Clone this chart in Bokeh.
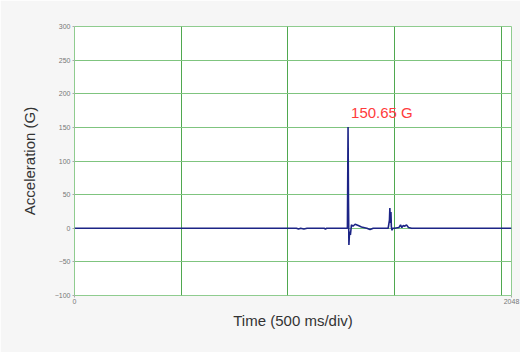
from bokeh.plotting import figure
from bokeh.models import FixedTicker, Range1d, Label
from bokeh.embed import file_html
from bokeh.resources import INLINE

# waveform knots (sample index, acceleration G)
sample_idx = [0, 1040, 1050, 1060, 1075, 1090, 1100, 1170, 1176, 1182, 1270,
              1279, 1282, 1284, 1286, 1289, 1293, 1298, 1305, 1315, 1330, 1345,
              1370, 1385, 1400, 1470, 1476, 1478, 1480, 1483, 1485, 1488, 1492,
              1500, 1520, 1528, 1534, 1540, 1548, 1556, 1565, 1580, 2048]
accel_g = [0, 0, -1, 0, -1, 0, 0, 0, -1, 0, 0,
           0, 150.65, 40, -25, -5, -10, 5, 3, 6, 4, 2,
           0, -2, 0, 0, 12, 30, 8, 24, 2, -3, 0,
           0, 1, 5, 1, 4, 3, 5, 1, 0, 0]

y_ticks = [-100, -50, 0, 50, 100, 150, 200, 250, 300]
x_ticks = [0, 2048]
x_grid = [0, 500, 1000, 1500, 2000, 2048]
peak_label = "150.65 G"

p = figure(width=520, height=352, output_backend="svg", toolbar_location=None,
           x_range=Range1d(0, 2048), y_range=Range1d(-100, 300),
           min_border_left=74, min_border_right=9, min_border_top=26,
           min_border_bottom=57)
p.border_fill_color = "#f6f6f6"
p.background_fill_color = "#ffffff"
p.outline_line_color = "#8fcc8f"

p.xgrid.ticker = FixedTicker(ticks=x_grid)
p.ygrid.ticker = FixedTicker(ticks=y_ticks)
p.xgrid.grid_line_color = "#4fa84f"
p.ygrid.grid_line_color = "#7fc47f"

p.xaxis.ticker = FixedTicker(ticks=x_ticks)
p.yaxis.ticker = FixedTicker(ticks=y_ticks)
for ax in (p.xaxis, p.yaxis):
    ax.axis_line_color = None
    ax.major_tick_line_color = "#aaaaaa"
    ax.major_tick_out = 2
    ax.major_tick_in = 0
    ax.minor_tick_line_color = None
    ax.major_label_text_font = "Liberation Sans"
    ax.major_label_text_font_size = "7px"
    ax.major_label_text_color = "#777777"
    ax.axis_label_text_font = "Liberation Sans"
    ax.axis_label_text_font_style = "normal"
    ax.axis_label_text_color = "#333333"
    ax.axis_label_text_font_size = "15px"
p.yaxis.major_label_standoff = 2
p.xaxis.major_label_standoff = 1
p.xaxis.axis_label = "Time (500 ms/div)"
p.yaxis.axis_label = "Acceleration (G)"
p.xaxis.axis_label_standoff = 5
p.yaxis.axis_label_standoff = 14

p.line(sample_idx, accel_g, line_color="#1c2486", line_width=1.6)

p.add_layout(Label(x=1282, y=150.65, text=peak_label, text_color="#ff3b3b",
                   text_font="Liberation Sans", text_font_size="15px",
                   text_baseline="alphabetic", x_offset=3, y_offset=14))

open("out.html", "w").write(file_html(p, INLINE))
